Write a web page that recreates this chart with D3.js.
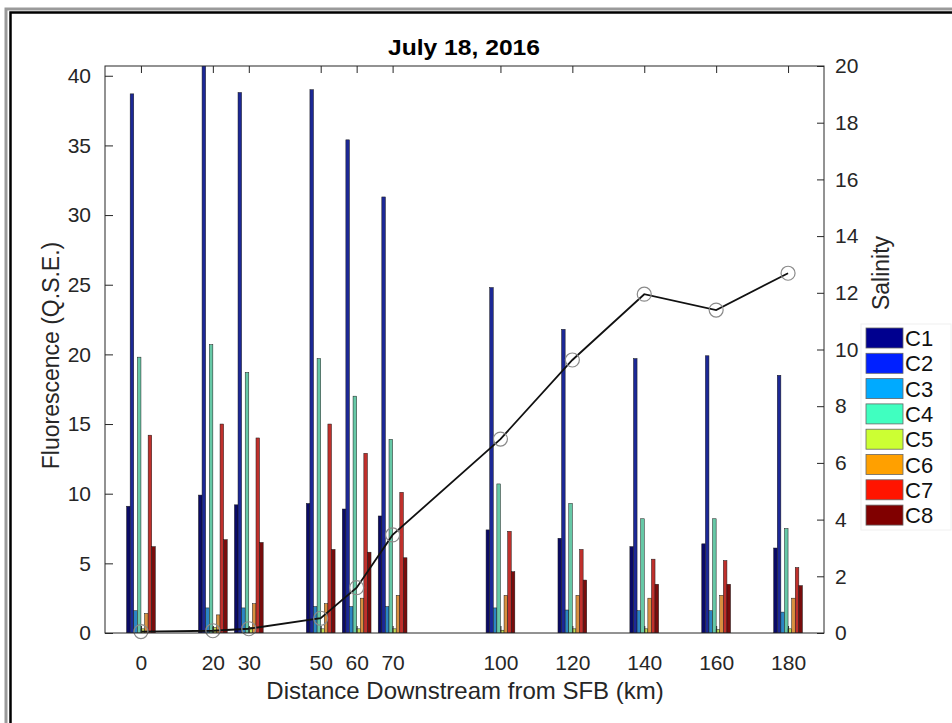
<!DOCTYPE html>
<html>
<head>
<meta charset="utf-8">
<script src="https://cdn.jsdelivr.net/npm/d3@7"></script>
<style>
  body { margin: 0; background: #fff; }
  svg { display: block; font-family: "Liberation Sans", Arial, sans-serif; }
  .tick text { fill: #262626; }
</style>
</head>
<body>
<div id="chart"></div>
<script>
// stations (km downstream of SFB) and component fluorescence
const distances = [0, 20, 30, 50, 60, 70, 100, 120, 140, 160, 180];
const components = ['C1', 'C2', 'C3', 'C4', 'C5', 'C6', 'C7', 'C8'];
const c1 = [9.1, 9.9, 9.2, 9.3, 8.9, 8.4, 7.4, 6.8, 6.2, 6.4, 6.1];
const c2 = [38.7, 41.5, 38.8, 39.0, 35.4, 31.3, 24.8, 21.8, 19.7, 19.9, 18.5];
const c3 = [1.6, 1.8, 1.8, 1.9, 1.9, 1.9, 1.8, 1.65, 1.6, 1.6, 1.5];
const c4 = [19.8, 20.7, 18.7, 19.7, 17.0, 13.9, 10.7, 9.3, 8.2, 8.2, 7.5];
const c5 = [0.3, 0.4, 0.4, 0.3, 0.3, 0.3, 0.2, 0.3, 0.3, 0.25, 0.3];
const c6 = [1.4, 1.3, 2.1, 2.1, 2.5, 2.7, 2.7, 2.7, 2.5, 2.7, 2.5];
const c7 = [14.2, 15.0, 14.0, 15.0, 12.9, 10.1, 7.3, 6.0, 5.3, 5.2, 4.7];
const c8 = [6.2, 6.7, 6.5, 6.0, 5.8, 5.4, 4.4, 3.8, 3.5, 3.5, 3.4];
const salinity = [0.05, 0.08, 0.15, 0.52, 1.6, 3.46, 6.84, 9.63, 11.95, 11.39, 12.69];

const leftTicks = [0, 5, 10, 15, 20, 25, 30, 35, 40];
const rightTicks = [0, 2, 4, 6, 8, 10, 12, 14, 16, 18, 20];

const seriesValues = [c1, c2, c3, c4, c5, c6, c7, c8];
const barColors = ['#0a0a66', '#1c2896', '#2c86c4', '#66c8a6', '#c0de58', '#d89040', '#c0302c', '#780c0c'];
const legendColors = ['#00008f', '#0020ff', '#00aaff', '#40ffc0', '#ccff33', '#ffa000', '#ff1400', '#800000'];

const W = 952, H = 723;
const plot = { left: 105, right: 824, top: 66, bottom: 633 };

const svg = d3.select('#chart').append('svg').attr('width', W).attr('height', H);

// outer frame (runs off the right/bottom edge in the original)
svg.append('rect').attr('x', 6).attr('y', 9).attr('width', 980).attr('height', 760)
  .attr('fill', 'none').attr('stroke', '#9a9a9a').attr('stroke-width', 3);
svg.append('rect').attr('x', 10.5).attr('y', 12.5).attr('width', 980).attr('height', 760)
  .attr('fill', 'none').attr('stroke', '#000').attr('stroke-width', 2.5);

const x = d3.scaleLinear().domain([-10, 190]).range([plot.left, plot.right]);
const y = d3.scaleLinear().domain([0, 40.7]).range([plot.bottom, plot.top]);
const y2 = d3.scaleLinear().domain([0, 20]).range([plot.bottom, plot.top]);
const inner = d3.scaleBand().domain(components).range([-4, 4]);

svg.append('defs').append('clipPath').attr('id', 'plot-clip')
  .append('rect').attr('x', plot.left).attr('y', plot.top)
  .attr('width', plot.right - plot.left).attr('height', plot.bottom - plot.top);

// bars
const barG = svg.append('g').attr('clip-path', 'url(#plot-clip)');
components.forEach((name, si) => {
  barG.append('g').selectAll('rect')
    .data(distances.map((d, i) => ({ d, v: seriesValues[si][i] })))
    .join('rect')
    .attr('x', (p) => x(p.d + inner(name)))
    .attr('width', (p) => x(p.d + inner(name) + inner.bandwidth()) - x(p.d + inner(name)))
    .attr('y', (p) => y(p.v))
    .attr('height', (p) => y(0) - y(p.v))
    .attr('fill', barColors[si])
    .attr('stroke', '#1a1a1a')
    .attr('stroke-width', 0.5);
});

// salinity line
const line = d3.line().x((d) => x(d[0])).y((d) => y2(d[1]));
const salPts = distances.map((d, i) => [d, salinity[i]]);
svg.append('path').datum(salPts).attr('d', line)
  .attr('fill', 'none').attr('stroke', '#111').attr('stroke-width', 1.8);
svg.append('g').selectAll('circle').data(salPts).join('circle')
  .attr('cx', (d) => x(d[0])).attr('cy', (d) => y2(d[1])).attr('r', 7)
  .attr('fill', 'none').attr('stroke', '#8a8a8a').attr('stroke-width', 1.2);

// axes box
const axisColor = '#262626';
svg.append('rect').attr('x', plot.left).attr('y', plot.top)
  .attr('width', plot.right - plot.left).attr('height', plot.bottom - plot.top)
  .attr('fill', 'none').attr('stroke', axisColor).attr('stroke-width', 1);

const fontSize = 21;

const xAxis = svg.append('g').attr('transform', `translate(0,${plot.bottom})`)
  .call(d3.axisBottom(x).tickValues(distances).tickSize(-7).tickPadding(22).tickSizeOuter(0));
const xTop = svg.append('g').attr('transform', `translate(0,${plot.top})`)
  .call(d3.axisTop(x).tickValues(distances).tickSize(-7).tickFormat('').tickSizeOuter(0));

const yAxis = svg.append('g').attr('transform', `translate(${plot.left},0)`)
  .call(d3.axisLeft(y).tickValues(leftTicks).tickSize(-8).tickPadding(14).tickSizeOuter(0));
const yAxis2 = svg.append('g').attr('transform', `translate(${plot.right},0)`)
  .call(d3.axisRight(y2).tickValues(rightTicks).tickSize(-7).tickPadding(11).tickSizeOuter(0));

[xAxis, xTop, yAxis, yAxis2].forEach((g) => {
  g.select('.domain').remove();
  g.selectAll('.tick line').attr('stroke', axisColor);
  g.selectAll('.tick text').attr('font-size', fontSize).attr('font-family', '"Liberation Sans", Arial, sans-serif');
});

// titles
svg.append('text').attr('x', 464).attr('y', 55).attr('text-anchor', 'middle')
  .attr('font-size', 22).attr('font-weight', 'bold').attr('fill', '#000')
  .attr('textLength', 152).attr('lengthAdjust', 'spacingAndGlyphs')
  .text('July 18, 2016');
svg.append('text').attr('x', 465).attr('y', 699).attr('text-anchor', 'middle')
  .attr('font-size', 24).attr('fill', '#262626')
  .text('Distance Downstream from SFB (km)');
svg.append('text').attr('transform', `translate(59,${(plot.top + plot.bottom) / 2 + 6}) rotate(-90)`)
  .attr('text-anchor', 'middle').attr('font-size', 23).attr('fill', '#262626')
  .text('Fluorescence (Q.S.E.)');
svg.append('text').attr('transform', 'translate(889,273) rotate(-90)')
  .attr('text-anchor', 'middle').attr('font-size', 23).attr('fill', '#262626')
  .text('Salinity');

// legend
const legend = svg.append('g');
legend.append('rect').attr('x', 861).attr('y', 324).attr('width', 90).attr('height', 206)
  .attr('fill', '#fff').attr('stroke', '#f0f0f0');
const item = legend.selectAll('g').data(components).join('g')
  .attr('transform', (d, i) => `translate(866,${328 + i * 25.3})`);
item.append('rect').attr('width', 37).attr('height', 20)
  .attr('fill', (d, i) => legendColors[i]).attr('stroke', '#666').attr('stroke-width', 0.8);
item.append('text').attr('x', 39).attr('y', 18).attr('font-size', 22).attr('fill', '#111')
  .text((d) => d);
</script>
</body>
</html>
